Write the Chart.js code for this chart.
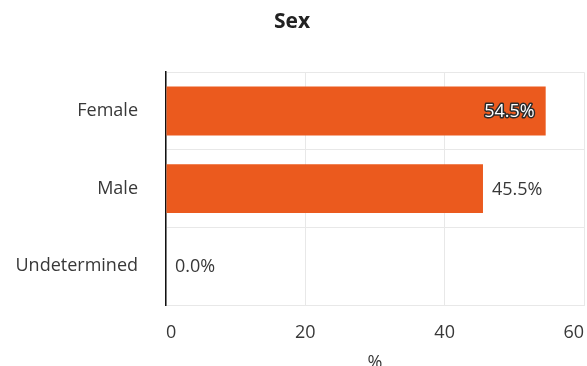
<!DOCTYPE html>
<html>
<head>
    <title>Sex</title>
    <style>
        html, body { margin: 0; padding: 0; background: #fff; overflow: hidden; }
        #wrap { position: relative; width: 587px; height: 374px; }
    </style>
</head>
<body>
    <div id="wrap"><canvas id="chart"></canvas></div>
    <script src="https://cdn.jsdelivr.net/npm/chart.js@4.4.0/dist/chart.umd.min.js"></script>
    <script>

var categories = ["Female", "Male", "Undetermined"];
var percentValues = [54.5, 45.5, 0.0];
var xTicks = [0, 20, 40, 60];

var barColour = "#EB5A1E";
var fontFamily = "'Open Sans', 'DejaVu Sans', sans-serif";

// draws the "54.5%" style labels at the end of each bar
var valueLabels = {
    id: "valueLabels",
    afterDatasetsDraw: function(chart) {
        let ctx = chart.ctx;
        let area = chart.chartArea;
        let meta = chart.getDatasetMeta(0);
        ctx.save();
        ctx.font = "18px " + fontFamily;
        ctx.textBaseline = "middle";
        meta.data.forEach(function(bar, i) {
            let text = percentValues[i].toFixed(1) + "%";
            let w = ctx.measureText(text).width;
            let y = bar.y + 1;
            if (bar.x + 10 + w > area.right) {
                // no room outside: put it inside the bar, outlined
                ctx.textAlign = "right";
                ctx.lineJoin = "round";
                ctx.lineWidth = 3;
                ctx.strokeStyle = "#2b2b2b";
                ctx.strokeText(text, bar.x - 11, y);
                ctx.fillStyle = "#ffffff";
                ctx.fillText(text, bar.x - 11, y);
            } else {
                ctx.textAlign = "left";
                ctx.fillStyle = "#383838";
                ctx.fillText(text, bar.x + 9, y);
            }
        });
        ctx.restore();
    }
};

var ctx = document.getElementById("chart").getContext("2d");

var chart = new Chart(ctx, {
    type: "bar",
    data: {
        labels: categories,
        datasets: [{
            label: "%",
            data: percentValues,
            backgroundColor: barColour,
            borderWidth: 0,
            categoryPercentage: 1.0,
            barPercentage: 0.63
        }]
    },
    plugins: [valueLabels],
    options: {
        indexAxis: "y",
        responsive: true,
        maintainAspectRatio: false,
        animation: false,
        layout: { padding: { left: 0, right: 3, top: 0, bottom: 0 } },
        plugins: {
            legend: { display: false },
            tooltip: { enabled: false },
            title: {
                display: true,
                text: "Sex",
                color: "#222",
                font: { family: fontFamily, size: 21, weight: "bold" },
                padding: { top: 9, bottom: 38 }
            }
        },
        scales: {
            x: {
                min: 0,
                max: 60,
                afterBuildTicks: function(scale) {
                    scale.ticks = xTicks.map(function(v) { return { value: v }; });
                },
                afterFit: function(scale) {
                    scale.height = 69;
                    scale.paddingLeft = 0;
                    scale.paddingRight = 0;
                },
                grid: { color: "#e8e8e8", drawTicks: false, lineWidth: 1 },
                border: { color: "#e8e8e8" },
                ticks: {
                    color: "#383838",
                    padding: 17,
                    align: "inner",
                    font: { family: fontFamily, size: 18 }
                },
                title: {
                    display: true,
                    text: "%",
                    color: "#383838",
                    font: { family: fontFamily, size: 18 },
                    padding: { top: 9, bottom: 0 }
                }
            },
            y: {
                afterFit: function(scale) { scale.width = 166; },
                grid: { color: "#e8e8e8", drawTicks: false, offset: true },
                border: { color: "#111", width: 1.5 },
                ticks: {
                    color: "#383838",
                    padding: 28,
                    font: { family: fontFamily, size: 18 }
                }
            }
        }
    }
});

    </script>
</body>
</html>
